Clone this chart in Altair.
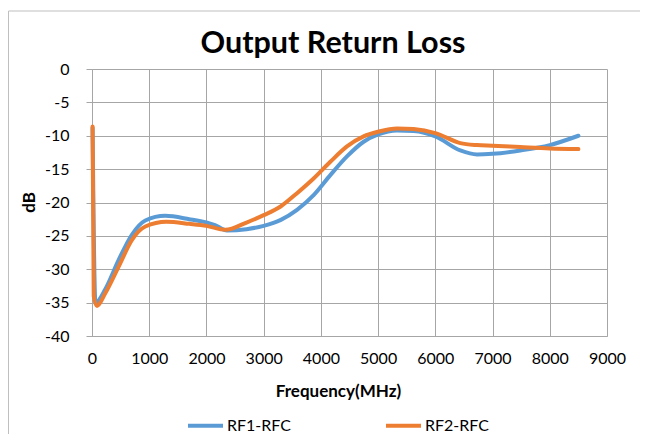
import altair as alt
import pandas as pd

# ---- data ----
rf1_freq = [10, 60, 232, 466, 699, 932, 1280, 1700, 2000, 2150, 2360, 2700, 3000, 3300,
            3583, 3873, 4165, 4456, 4747, 5000, 5330, 5621, 6000, 6437, 6728, 7000, 7485,
            8000, 8500]
rf1_db = [-8.8, -35.0, -33.0, -28.6, -24.8, -22.7, -22.0, -22.5, -23.0, -23.4, -24.2, -24.0,
          -23.5, -22.6, -21.1, -18.9, -15.9, -13.1, -10.9, -9.8, -9.2, -9.3, -10.1, -12.2,
          -12.8, -12.7, -12.2, -11.4, -10.0]

rf2_freq = [10, 30, 87, 232, 466, 699, 932, 1300, 1700, 2000, 2330, 2700, 3000, 3296, 3583,
            3873, 4165, 4456, 4747, 5000, 5330, 5621, 6000, 6437, 6728, 7000, 7485, 8000, 8500]
rf2_db = [-8.6, -34.0, -35.5, -33.6, -29.6, -25.6, -23.6, -22.9, -23.2, -23.5, -24.1, -23.0,
          -21.9, -20.6, -18.6, -16.4, -13.9, -11.6, -10.1, -9.4, -8.9, -9.0, -9.6, -11.1,
          -11.4, -11.5, -11.7, -11.9, -12.0]

series_names = ["RF1-RFC", "RF2-RFC"]
series_colors = ["#5B9BD5", "#ED7D31"]
x_ticks = list(range(0, 9001, 1000))
y_ticks = list(range(-40, 1, 5))
chart_title = "Output Return Loss"

df = pd.concat([
    pd.DataFrame({"freq": rf1_freq, "dB": rf1_db, "series": series_names[0]}),
    pd.DataFrame({"freq": rf2_freq, "dB": rf2_db, "series": series_names[1]}),
])

FONT = "Lato"
GRID = "#A6A6A6"
FRAME = "#BFBFBF"

lines = alt.Chart(df).mark_line(
    interpolate="monotone", strokeWidth=4, strokeCap="round", strokeJoin="round"
).encode(
    x=alt.X("freq:Q",
            scale=alt.Scale(domain=[0, 9000], nice=False),
            axis=alt.Axis(values=x_ticks, labelExpr="'' + datum.value", labelOverlap=False,
                          labelFlush=False, title="Frequency(MHz)", ticks=False, tickSize=0,
                          labelPadding=14, titleX=246, titleY=55,
                          titleBaseline="middle")),
    y=alt.Y("dB:Q",
            scale=alt.Scale(domain=[-40, 0], nice=False, zero=False),
            axis=alt.Axis(values=y_ticks, labelExpr="'' + datum.value", tickSize=6,
                          labelPadding=17, labelOverlap=False, labelFlush=False, title="dB",
                          titleX=-63, titleY=133, titleBaseline="middle", titleAngle=-90)),
    color=alt.Color("series:N",
                    scale=alt.Scale(domain=series_names, range=series_colors),
                    legend=alt.Legend(title=None, orient="none", direction="horizontal",
                                      legendX=94, legendY=337, symbolType="stroke",
                                      symbolSize=1225, symbolStrokeWidth=4,
                                      labelOffset=2, columnPadding=87, padding=0)),
)

frame_top = alt.Chart(alt.Data(values=[{}])).mark_rule(color=FRAME, strokeWidth=1).encode(
    x=alt.value(-83.5), x2=alt.value(548), y=alt.value(-58)
)
frame_left = alt.Chart(alt.Data(values=[{}])).mark_rule(color=FRAME, strokeWidth=1).encode(
    x=alt.value(-83.5), y=alt.value(-58), y2=alt.value(365)
)

title_text = alt.Chart(alt.Data(values=[{"t": chart_title}])).mark_text(
    font=FONT, fontSize=30.5, fontWeight="bold", color="#000000",
    align="center", baseline="alphabetic"
).encode(
    text="t:N", x=alt.value(241), y=alt.value(-16)
)

chart = alt.layer(frame_top, frame_left, lines, title_text).properties(
    width=515, height=267,
    autosize=alt.AutoSizeParams(type="none"),
    padding={"left": 84, "top": 61, "right": 34, "bottom": 98},
).configure_view(stroke=None).configure_axis(
    gridColor=GRID, gridWidth=1, domainColor=GRID, tickColor=GRID,
    labelFont=FONT, labelFontSize=16, labelColor="#000000",
    titleFont=FONT, titleFontSize=17, titleFontWeight="bold", titleColor="#000000",
).configure_legend(
    labelFont=FONT, labelFontSize=16, labelColor="#000000"
)

chart.save("out.html", embed_options={"renderer": "svg", "actions": False})
